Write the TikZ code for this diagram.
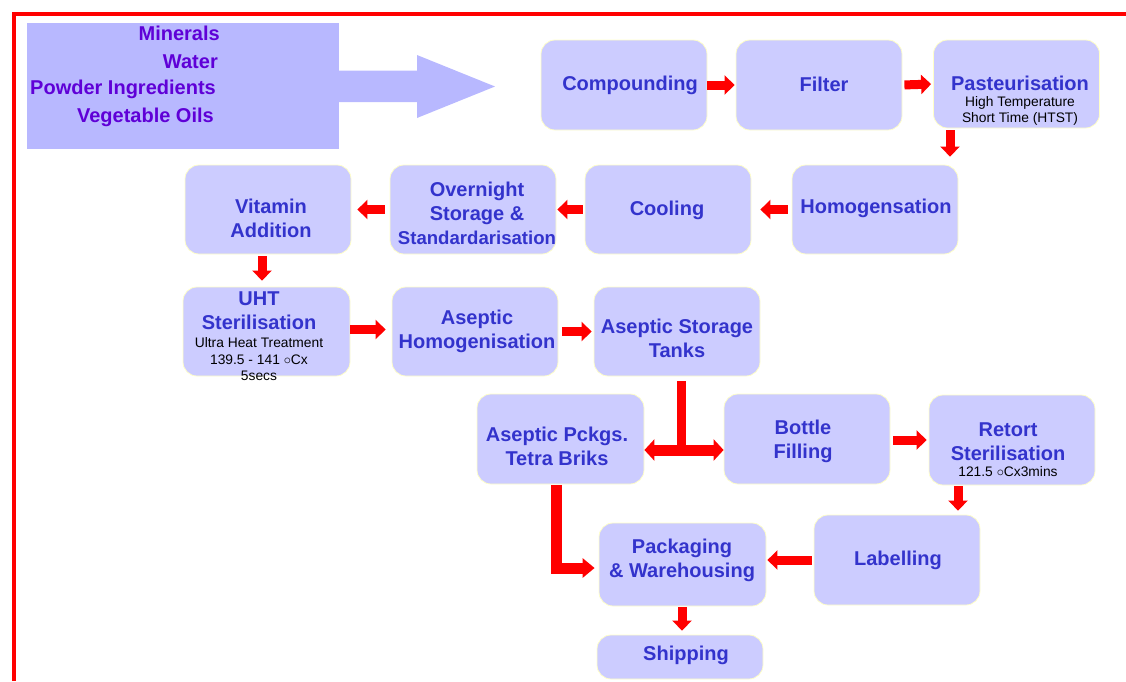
\documentclass[tikz,border=0pt]{standalone}
\usepackage{fontspec}
\setmainfont{Liberation Sans}
\usetikzlibrary{arrows.meta,calc}
\definecolor{boxfill}{RGB}{204,204,255}
\definecolor{boxline}{RGB}{255,255,200}
\definecolor{infill}{RGB}{184,184,255}
\definecolor{tblue}{RGB}{51,51,204}
\definecolor{tpurple}{RGB}{95,0,215}
\definecolor{rred}{RGB}{255,0,0}
\tikzset{
  bx/.style={rectangle, rounded corners=14pt, fill=boxfill, draw=boxline, line width=0.8pt,
    minimum width=166pt, minimum height=90pt, inner sep=0pt},
  tt/.style={font=\fontsize{20}{24}\selectfont\bfseries, text=tblue, align=center, inner sep=0pt},
  st/.style={font=\fontsize{13.8}{16}\selectfont, text=black, align=center, inner sep=0pt},
  it/.style={font=\fontsize{20}{24}\selectfont\bfseries, text=tpurple, anchor=east, inner sep=0pt},
  rarr/.style={draw=rred, line width=9pt, -{Triangle[width=19pt,length=10pt]}},
  rbig/.style={draw=rred, line width=11pt, line join=miter},
}
\begin{document}
\begin{tikzpicture}[x=1pt,y=-1pt]
\useasboundingbox (0,0) rectangle (1126,681);
% frame
\draw[rred, line width=4pt] (13.7,681) -- (13.7,14.3) -- (1126,14.3);
% input block
\fill[infill] (27,23) rectangle (339,149);
\fill[infill] (338,70.5) -- (417,70.5) -- (417,55) -- (495,86.5) -- (417,118) -- (417,102) -- (338,102) -- cycle;
\node[it] (minerals) at (220,33.5) {Minerals};
\node[it] (water) at (218,62) {Water};
\node[it] (powder) at (216,89) {Powder Ingredients};
\node[it] (oils) at (214,117) {Vegetable Oils};
% boxes
\node[bx] (comp) at (624,85) {};
\node[bx] (filt) at (819,85) {};
\node[bx, minimum height=88pt] (past) at (1016.5,84) {};
\node[bx, minimum height=89pt] (homo) at (875,209.5) {};
\node[bx, minimum height=89pt] (cool) at (668,209.5) {};
\node[bx, minimum height=89pt] (over) at (473,209.5) {};
\node[bx, minimum height=89pt] (vit) at (268,209.5) {};
\node[bx, minimum height=89pt, minimum width=167pt] (uht) at (266.5,331.5) {};
\node[bx, minimum height=89pt] (aho) at (475,331.5) {};
\node[bx, minimum height=89pt] (sto) at (677,331.5) {};
\node[bx, minimum width=167pt] (ase) at (560.5,439) {};
\node[bx] (bot) at (807,439) {};
\node[bx] (ret) at (1012,440) {};
\node[bx] (lab) at (897,560) {};
\node[bx, minimum width=167pt, minimum height=83pt] (pkg) at (682.5,564.5) {};
\node[bx, minimum height=44pt] (ship) at (680,657) {};
% texts
\node[tt] (tcomp) at (630,85) {Compounding};
\node[tt] (tfilt) at (824,84) {Filter};
\node[tt] (tpast) at (1020,83) {Pasteurisation};
\node[st] (spast) at (1020,111) {High Temperature\\Short Time (HTST)};
\node[tt] (thomo) at (876,208) {Homogensation};
\node[tt] (tcool) at (667,210) {Cooling};
\node[tt] (tover) at (477,213) {Overnight\\Storage \&\\{\fontsize{18.6}{24}\selectfont Standardarisation}};
\node[tt] (tvit) at (271,218) {Vitamin\\Addition};
\node[tt] (tuht) at (259,311) {UHT\\Sterilisation};
\node[st, font=\fontsize{13.8}{16.5}\selectfont] (suht) at (259,359.5) {Ultra Heat Treatment\\139.5 - 141 $\circ$Cx\\5secs};
\node[tt] (taho) at (477,331) {Aseptic\\Homogenisation};
\node[tt] (tsto) at (677,338) {Aseptic Storage\\Tanks};
\node[tt] (tase) at (557,446) {Aseptic Pckgs.\\Tetra Briks};
\node[tt] (tbot) at (803,441) {Bottle\\Filling};
\node[tt] (tret) at (1008,441.5) {Retort\\Sterilisation};
\node[st] (sret) at (1008,472) {121.5 $\circ$Cx3mins};
\node[tt] (tlab) at (898,560) {Labelling};
\node[tt] (tpkg) at (682,560) {Packaging\\\& Warehousing};
\node[tt] (tship) at (686,655) {Shipping};
% connectors
\draw[rarr, shorten >=1pt] (comp.east) -- (filt.west);
\draw[rarr, shorten <=2pt, shorten >=2pt] (filt.west -| filt.east) -- (past.west);
\draw[rarr, shorten <=2pt, shorten >=8pt] ($(past.south)+(-66.5,0)$) coordinate (p1) -- (p1 |- homo.north);
\draw[rarr, shorten <=4pt, shorten >=9pt] (homo.west) -- (cool.east);
\draw[rarr, shorten <=2pt, shorten >=1pt] (cool.west) -- (over.east);
\draw[rarr, shorten <=5pt, shorten >=6pt] (over.west) -- (vit.east);
\draw[rarr, shorten <=2pt, shorten >=6pt] ($(vit.south)+(-6,0)$) coordinate (v1) -- (v1 |- uht.north);
\draw[rarr, shorten >=6pt] ($(uht.east)+(0,-2)$) coordinate (u1) -- (u1 -| aho.west);
\draw[rarr, shorten <=4pt, shorten >=2pt] (aho.east) -- (sto.west);
\coordinate (split) at (681,450);
\draw[draw=rred, line width=9pt] ($(sto.south)+(4,5)$) -- (split);
\draw[draw=rred, line width=11pt, {Triangle[width=21pt,length=10pt]}-{Triangle[width=21pt,length=10pt]}] (split -| ase.east) -- (split -| bot.west);
\draw[rarr, shorten <=3pt, shorten >=2pt] ($(bot.east)+(0,1)$) coordinate (b1) -- (b1 -| ret.west);
\draw[rarr, shorten <=1pt, shorten >=4pt] ($(ret.south)+(-54,0)$) coordinate (r1) -- (r1 |- lab.north);
\draw[rarr, shorten <=2pt, shorten >=1pt] (lab.west) -- (lab.west -| pkg.east);
\draw[rarr, shorten <=1pt, shorten >=4pt] ($(pkg.south)+(-0.5,0)$) coordinate (k1) -- (k1 |- ship.north);
\draw[rbig, -{Triangle[width=19pt,length=12pt]}, shorten >=4pt] ($(ase.south)+(-4,1)$) |- ($(pkg.west)+(0,3.5)$);
\end{tikzpicture}
\end{document}
